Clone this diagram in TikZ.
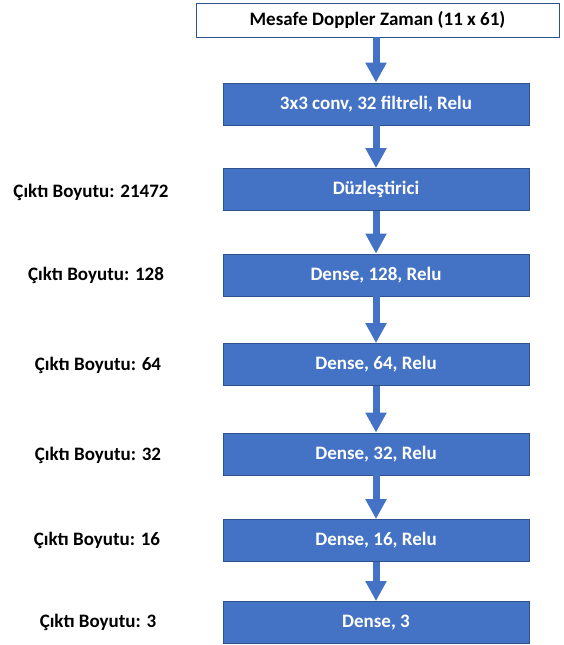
\documentclass[tikz,border=0pt]{standalone}
\usepackage{fontspec}
\setmainfont{Carlito}
\usetikzlibrary{arrows.meta}
\definecolor{boxblue}{HTML}{4472C4}
\definecolor{edgeblue}{HTML}{2F528F}
\tikzset{
  layer/.style={draw=edgeblue, line width=0.8pt, fill=boxblue, text=white,
    minimum width=306pt, minimum height=42pt, inner sep=0pt,
    font=\fontsize{19}{21}\selectfont\bfseries},
  inbox/.style={draw=edgeblue, line width=0.9pt, fill=white, text=black,
    minimum width=363pt, minimum height=34pt, inner sep=0pt,
    font=\fontsize{19}{21}\selectfont\bfseries},
  lbl/.style={text=black, inner sep=0pt, font=\fontsize{19}{21}\selectfont\bfseries},
  flow/.style={draw=boxblue, line width=7pt, -{Triangle[width=20pt,length=20pt]}, shorten >=0pt}
}
\begin{document}
\begin{tikzpicture}[x=1pt,y=-1pt]
\useasboundingbox (0,0) rectangle (563,645);
\node[inbox] (in) at (377.5,20) {Mesafe Doppler Zaman (11 x 61)};
\node[layer] (c1) at (376,104) {3x3 conv, 32 filtreli, Relu};
\node[layer] (fl) at (376,189.5) {Düzleştirici};
\node[layer] (d128) at (376,275) {Dense, 128, Relu};
\node[layer] (d64) at (376,364.5) {Dense, 64, Relu};
\node[layer] (d32) at (376,454) {Dense, 32, Relu};
\node[layer] (d16) at (376,540.5) {Dense, 16, Relu};
\node[layer] (d3) at (376,622.5) {Dense, 3};
\node[lbl] (l1) at (91,192) {Çıktı Boyutu: 21472};
\node[lbl] (l2) at (96,275) {Çıktı Boyutu: 128};
\node[lbl] (l3) at (98,365) {Çıktı Boyutu: 64};
\node[lbl] (l4) at (98,455) {Çıktı Boyutu: 32};
\node[lbl] (l5) at (97,540) {Çıktı Boyutu: 16};
\node[lbl] (l6) at (98,622) {Çıktı Boyutu: 3};
\draw[flow] (in.south -| c1.north) -- (c1.north);
\draw[flow] (c1.south) -- (fl.north);
\draw[flow] (fl.south) -- (d128.north);
\draw[flow] (d128.south) -- (d64.north);
\draw[flow] (d64.south) -- (d32.north);
\draw[flow] (d32.south) -- (d16.north);
\draw[flow] (d16.south) -- (d3.north);
\end{tikzpicture}
\end{document}
